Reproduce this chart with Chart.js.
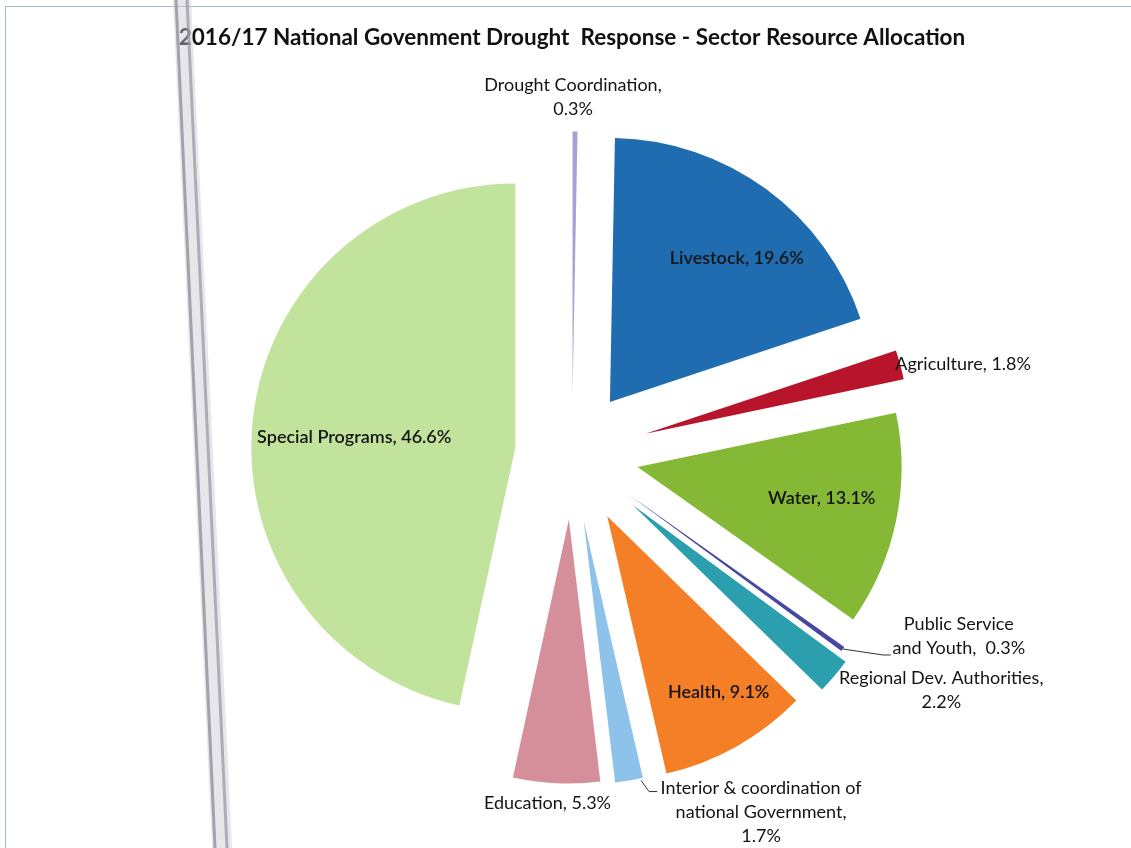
<!DOCTYPE html>
<html>
<head>
<meta charset="utf-8">
<script src="https://cdn.jsdelivr.net/npm/chart.js@4.4.1/dist/chart.umd.min.js"></script>
<style>
    html, body { margin: 0; padding: 0; background: #fff; }
    #wrap { position: relative; width: 1131px; height: 848px; overflow: hidden; }
    #frame { position: absolute; left: 5px; top: 6px; width: 1200px; height: 900px;
             border-left: 1px solid #a9b8c6; border-top: 1px solid #a9b8c6; }
    canvas, svg { position: absolute; left: 0; top: 0; }
</style>
</head>
<body>
<div id="wrap">
    <div id="frame"></div>
    <canvas id="sectorChart" width="1131" height="848"></canvas>
    <!-- scanner edge that runs down the left of the photo -->
    <svg width="1131" height="848">
        <polygon points="173,0 191,0 232,848 212,848" fill="#c9c8d0" fill-opacity="0.45"/>
        <line x1="176" y1="0" x2="215" y2="848" stroke="#8d8a98" stroke-width="3" stroke-opacity="0.75"/>
        <line x1="187" y1="0" x2="227" y2="848" stroke="#9c99a8" stroke-width="3" stroke-opacity="0.75"/>
    </svg>
</div>
<script>
// Sector shares, clockwise from 12 o'clock
const categories = [
    'Drought Coordination',
    'Livestock',
    'Agriculture',
    'Water',
    'Public Service and Youth',
    'Regional Dev. Authorities',
    'Health',
    'Interior & coordination of national Government',
    'Education',
    'Special Programs'
];
const shares = [0.3, 19.6, 1.8, 13.1, 0.3, 2.2, 9.1, 1.7, 5.3, 46.6];

const sliceColors = [
    '#a3a3d6', '#1f6db0', '#b8152c', '#85b935', '#4747a3',
    '#2b9fae', '#f47f26', '#8dc3ea', '#d58f9a', '#c2e39c'
];

// how far each slice is pulled out of the pie (px)
const explode = [58, 64, 76, 67, 70, 80, 72, 68, 66, 57];

// label placement: inside slices (dist from tip) or outside (from rim)
const labelLayout = [
    { dx: -2, dy: -34, breaks: [2] },
    { inside: true, dist: 192, dx: 13, dy: 11 },
    { dx: -5, dy: -1, align: 'left' },
    { inside: true, dist: 187, dx: 1, dy: -7 },
    { dx: 116, dy: -13, breaks: [2], sep: ',  ', leader: [[0, 0], [40, 6], [48, 6]] },
    { dx: 107, dy: 14, breaks: [3] },
    { inside: true, dist: 209, dx: 9, dy: -6 },
    { dx: 132, dy: 32, breaks: [4, 6], leader: [[12, 0], [20, 11], [28, 11]] },
    { dx: -9, dy: 20 },
    { inside: true, dist: 162, dx: 0, dy: 7 }
];

function splitLines(text, breaks) {
    if (!breaks) return [text];
    const words = text.split(' ');
    const lines = [];
    let start = 0;
    breaks.concat([words.length]).forEach(b => {
        lines.push(words.slice(start, b).join(' '));
        start = b;
    });
    return lines;
}

// Chart.js' own offset also shrinks/grows the arc, so pull slices out by hand
const explodedPie = {
    id: 'explodedPie',
    beforeDatasetDraw(chart, args) {
        const ctx = chart.ctx;
        args.meta.data.forEach((arc, i) => {
            const mid = (arc.startAngle + arc.endAngle) / 2;
            ctx.save();
            ctx.translate(Math.cos(mid) * explode[i], Math.sin(mid) * explode[i]);
            arc.draw(ctx);
            ctx.restore();
        });
        return false;
    }
};

const sliceLabels = {
    id: 'sliceLabels',
    afterDatasetsDraw(chart) {
        const ctx = chart.ctx;
        const meta = chart.getDatasetMeta(0);
        ctx.save();
        meta.data.forEach((arc, i) => {
            const p = arc.getProps(['x', 'y', 'startAngle', 'endAngle', 'outerRadius'], true);
            const mid = (p.startAngle + p.endAngle) / 2;
            const cos = Math.cos(mid), sin = Math.sin(mid);
            const ax = p.x + cos * explode[i];
            const ay = p.y + sin * explode[i];
            const cfg = labelLayout[i];
            const dist = cfg.inside ? cfg.dist : p.outerRadius;
            const rx = ax + cos * dist, ry = ay + sin * dist;
            const lx = rx + cfg.dx, ly = ry + cfg.dy;

            if (cfg.leader) {
                ctx.strokeStyle = '#333';
                ctx.lineWidth = 1;
                ctx.beginPath();
                cfg.leader.forEach(([px, py], k) => {
                    if (k === 0) ctx.moveTo(rx + px, ry + py);
                    else ctx.lineTo(rx + px, ry + py);
                });
                ctx.stroke();
            }

            const text = categories[i] + (cfg.sep || ', ') + shares[i].toFixed(1) + '%';
            const lines = splitLines(text, cfg.breaks);
            const lineH = 24;
            ctx.fillStyle = '#141414';
            ctx.font = (cfg.inside ? '600 ' : '') + '18px Lato';
            ctx.textAlign = cfg.align || 'center';
            ctx.textBaseline = 'middle';
            const top = ly - (lines.length - 1) * lineH / 2;
            lines.forEach((line, k) => ctx.fillText(line, lx, top + k * lineH));
        });
        ctx.restore();
    }
};

new Chart(document.getElementById('sectorChart').getContext('2d'), {
    type: 'pie',
    data: {
        labels: categories,
        datasets: [{
            data: shares,
            backgroundColor: sliceColors,
            borderWidth: 0,
            radius: 264
        }]
    },
    options: {
        responsive: false,
        animation: false,
        events: [],
        layout: { padding: { left: 13, right: 0, top: 0, bottom: 1 } },
        plugins: {
            legend: { display: false },
            tooltip: { enabled: false },
            title: {
                display: true,
                text: '2016/17 National Govenment Drought  Response - Sector Resource Allocation',
                color: '#111',
                font: { family: 'Lato', size: 22.5, weight: 'bold' },
                padding: { top: 24, bottom: 9 }
            }
        }
    },
    plugins: [explodedPie, sliceLabels]
});
</script>
</body>
</html>
